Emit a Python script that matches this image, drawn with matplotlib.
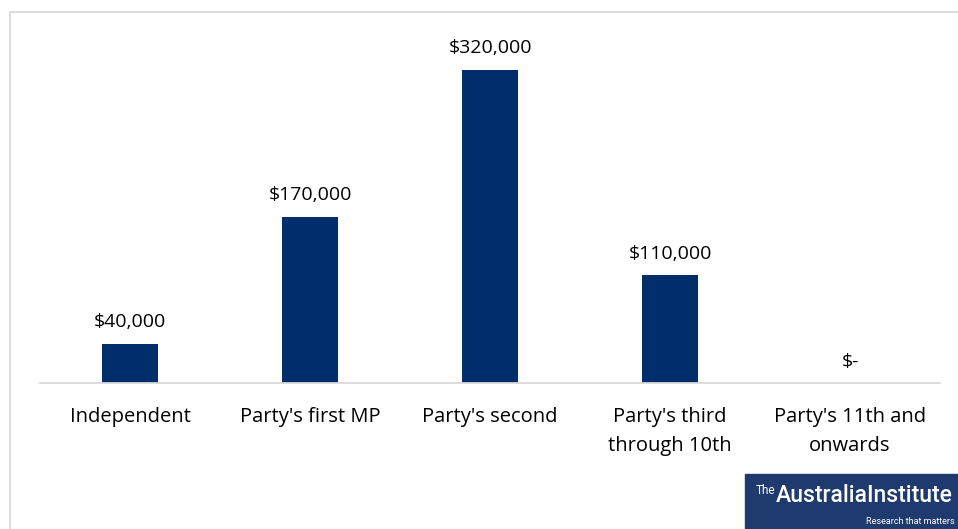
import matplotlib
matplotlib.use("Agg")
import matplotlib.pyplot as plt
from matplotlib.patches import Rectangle

categories = ["Independent", "Party's first MP", "Party's second",
              "Party's third\nthrough 10th", "Party's 11th and\nonwards"]
values = [40000, 170000, 320000, 110000, 0]
labels = ["$40,000", "$170,000", "$320,000", "$110,000", "$-"]

bar_color = "#002E6A"
W, H = 958, 529
plt.rcParams['font.family'] = ['Open Sans', 'DejaVu Sans']

fig = plt.figure(figsize=(W / 100, H / 100), dpi=100)

# outer chart border (light grey, runs off right edge)
fig.patches.append(Rectangle((10 / W, -0.01), 1.0, (H - 11.5) / H + 0.01,
                             transform=fig.transFigure, fill=False,
                             edgecolor="#d9d9d9", linewidth=1.3))

ax = fig.add_axes([40 / W, (H - 383) / H, 900 / W, (383 - 20) / H])
x = range(len(values))
ax.bar(x, values, width=0.315, color=bar_color)
ax.set_xlim(-0.5, len(values) - 0.5)
ax.set_ylim(0, 320000 * (383 - 20) / 313)

for xi, v, lab in zip(x, values, labels):
    ax.annotate(lab, (xi, v), xytext=(0, 9), textcoords="offset points",
                ha="center", va="bottom", fontsize=14, color="#000000")

ax.set_xticks(list(x))
ax.set_xticklabels(categories, fontsize=14.5, linespacing=1.6)
ax.tick_params(axis="x", length=0, pad=17)
ax.set_yticks([])
for s in ["top", "right", "left"]:
    ax.spines[s].set_visible(False)
ax.spines["bottom"].set_color("#d9d9d9")
ax.spines["bottom"].set_linewidth(1.3)

# logo block bottom-right
fig.patches.append(Rectangle((745 / W, 0), (W - 745) / W, 55 / H,
                             transform=fig.transFigure, color="#1F3A6E"))
fig.text(756 / W, (H - 491) / H, "The", color="white", fontsize=8.5,
         family="Roboto", va="center", ha="left")
fig.text(776 / W, (H - 496) / H, "AustraliaInstitute", color="white",
         fontsize=16.5, family="Roboto", weight="medium", va="center", ha="left")
fig.text(955 / W, (H - 521) / H, "Research that matters", color="white",
         fontsize=6.5, family="Roboto", va="center", ha="right")

fig.savefig("out.png", dpi=100)
